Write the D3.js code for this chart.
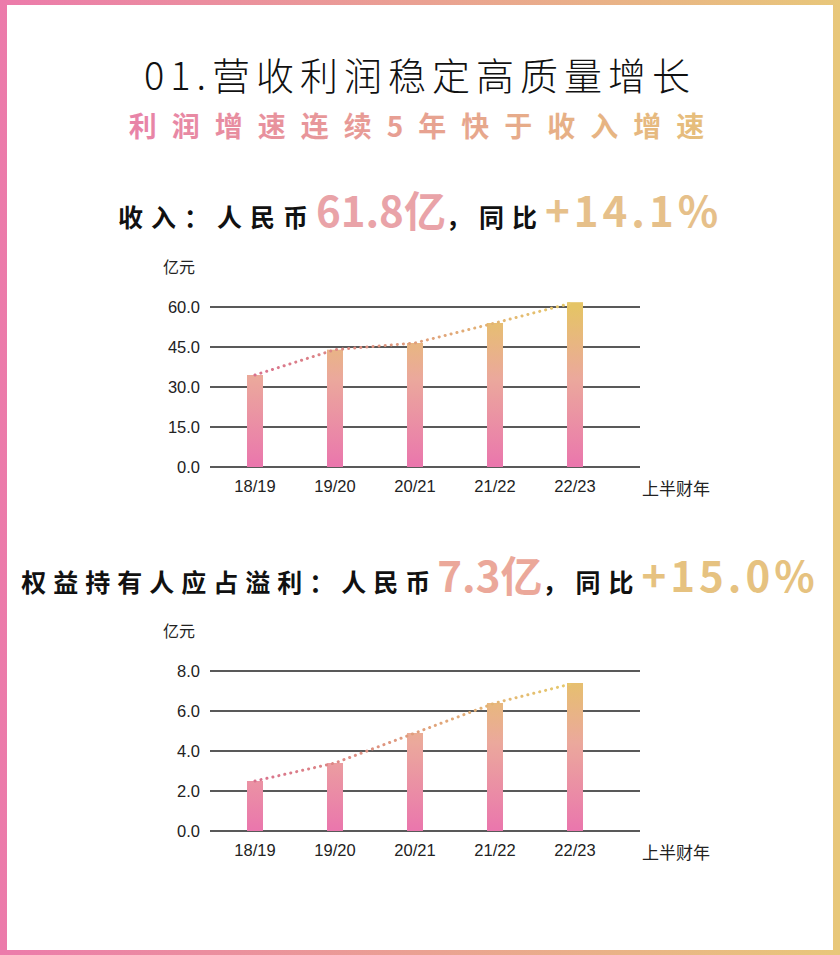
<!DOCTYPE html><html><head><meta charset="utf-8">
<script src="https://cdn.jsdelivr.net/npm/d3@7"></script>
<style>body{margin:0;background:#fff}svg{display:block}</style></head><body>
<svg id="c" width="840" height="955"></svg>
<script>
const categories=["18/19","19/20","20/21","21/22","22/23"];
const revenue=[34.5,44.0,46.5,54.0,61.8];
const profit=[2.5,3.4,4.9,6.4,7.4];
const revTicks=[0,15,30,45,60];
const profTicks=[0,2,4,6,8];
const F="'Noto Sans CJK SC','Noto Sans',sans-serif";
const svg=d3.select("#c");
const defs=svg.append("defs");
const fg=defs.append("linearGradient").attr("id","frame").attr("x1","0").attr("x2","1");
fg.append("stop").attr("offset","0").attr("stop-color","#ec7bab");
fg.append("stop").attr("offset","1").attr("stop-color","#e8c77a");
const tg=defs.append("linearGradient").attr("id","txt").attr("x1","0").attr("x2","1");
tg.append("stop").attr("offset","0").attr("stop-color","#e883a8");
tg.append("stop").attr("offset","1").attr("stop-color","#e6c07a");
svg.append("rect").attr("width",840).attr("height",955).attr("fill","url(#frame)");
svg.append("rect").attr("x",7).attr("y",5).attr("width",826).attr("height",945).attr("fill","#fff");
svg.append("text").attr("x",420).attr("y",90).attr("text-anchor","middle").attr("font-family",F).attr("font-size",38).attr("font-weight",300).attr("letter-spacing",6).attr("fill","#111").text("01.营收利润稳定高质量增长");
svg.append("text").attr("x",424).attr("y",137).attr("text-anchor","middle").attr("font-family",F).attr("font-size",28).attr("font-weight",700).attr("letter-spacing",15).attr("fill","url(#txt)").text("利润增速连续5年快于收入增速");
function headline(y,parts){
  const t=svg.append("text").attr("x",420).attr("y",y).attr("text-anchor","middle").attr("font-family",F).attr("font-weight",700);
  parts.forEach(p=>t.append("tspan").attr("font-size",p[2]).attr("fill",p[1]).attr("letter-spacing",p[3]).text(p[0]));
}
headline(227,[["收入：人民币","#111",25,8],["61.8亿","#e9a3a8",42,0],["，同比","#111",25,8],["+14.1%","#e6c08a",42,4]]);
headline(592,[["权益持有人应占溢利：人民币","#111",25,7],["7.3亿","#eba89a",42,0],["，同比","#111",25,8],["+15.0%","#e6c280",42,4]]);
function chart(id,top,vals,ticks,max){
  const y0=top+160;
  const x=d3.scaleBand().domain(categories).range([215,615]).paddingInner(0.8).paddingOuter(0.4);
  const y=d3.scaleLinear().domain([0,max]).range([y0,top]);
  const g=svg.append("g");
  const bg=defs.append("linearGradient").attr("id","b"+id).attr("gradientUnits","userSpaceOnUse").attr("x1",0).attr("x2",0).attr("y1",y0).attr("y2",top);
  bg.append("stop").attr("offset","0").attr("stop-color","#ea76ad");
  bg.append("stop").attr("offset","0.55").attr("stop-color","#eba89c");
  bg.append("stop").attr("offset","1").attr("stop-color","#e5c466");
  ticks.forEach(t=>g.append("line").attr("x1",210).attr("x2",640).attr("y1",y(t)).attr("y2",y(t)).attr("stroke","#222").attr("stroke-width",1.4));
  g.append("g").attr("transform","translate(203,0)").call(d3.axisLeft(y).tickValues(ticks).tickSize(0).tickFormat(d3.format(".1f")))
   .call(a=>{a.select(".domain").remove();a.selectAll("text").attr("font-family","Liberation Sans,Arial").attr("font-size",16.5).attr("fill","#222");});
  g.selectAll(".bar").data(vals).join("rect").attr("x",(d,i)=>x(categories[i])).attr("width",x.bandwidth()).attr("y",d=>y(d)).attr("height",d=>y0-y(d)).attr("fill","url(#b"+id+")");
  const lg=defs.append("linearGradient").attr("id","l"+id).attr("gradientUnits","userSpaceOnUse").attr("x1",250).attr("x2",580).attr("y1",0).attr("y2",0);
  lg.append("stop").attr("offset","0").attr("stop-color","#d9708e");
  lg.append("stop").attr("offset","1").attr("stop-color","#e6cc6a");
  g.append("path").datum(vals).attr("d",d3.line().x((d,i)=>x(categories[i])+x.bandwidth()/2).y(d=>y(d))).attr("fill","none").attr("stroke","url(#l"+id+")").attr("stroke-width",3).attr("stroke-linecap","round").attr("stroke-dasharray","0.1 6");
  g.append("g").attr("transform",`translate(0,${y0+10})`).call(d3.axisBottom(x).tickSize(0))
   .call(a=>{a.select(".domain").remove();a.selectAll("text").attr("font-family","Liberation Sans,Arial").attr("font-size",16.5).attr("fill","#222");});
  g.append("text").attr("x",642).attr("y",y0+28).attr("font-family",F).attr("font-size",17).attr("fill","#222").text("上半财年");
  g.append("text").attr("x",163).attr("y",top-34).attr("font-family",F).attr("font-size",16).attr("fill","#222").text("亿元");
}
chart(1,307,revenue,revTicks,60);
chart(2,671,profit,profTicks,8);
</script></body></html>
